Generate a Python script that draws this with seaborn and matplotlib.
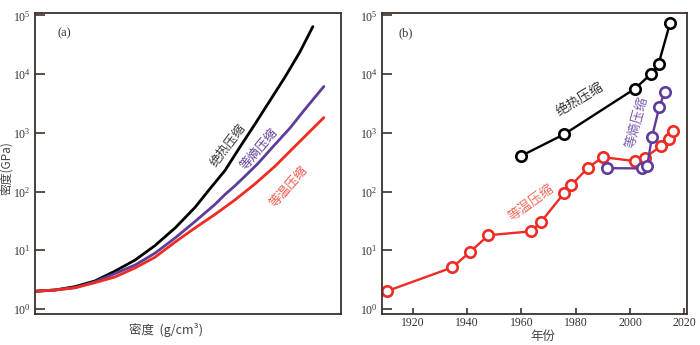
import matplotlib
matplotlib.use("Agg")
import matplotlib.pyplot as plt
import seaborn as sns
from matplotlib.ticker import LogLocator, NullLocator

# panel (a): pressure vs density curves (density in arbitrary units, no ticks shown)
adiabat_rho = [0, 0.65, 1.31, 1.96, 2.61, 3.27, 3.92, 4.58, 5.23, 5.72, 6.21, 6.70, 7.19, 7.68, 8.17, 8.66, 9.08]
adiabat_p = [2.0, 2.1, 2.4, 3.0, 4.4, 6.8, 12.0, 24.0, 53.7, 112, 229, 575, 1413, 3548, 8913, 23988, 64565]
isentrope_rho = [0, 0.65, 1.31, 1.96, 2.61, 3.27, 3.92, 4.58, 5.23, 5.88, 6.21, 6.54, 6.86, 7.29, 7.84, 8.33, 8.82, 9.44]
isentrope_p = [2.0, 2.1, 2.3, 2.9, 4.0, 5.6, 8.9, 16.2, 30.9, 60.3, 89.1, 126, 182, 302, 631, 1202, 2512, 6166]
isotherm_rho = [0, 0.65, 1.31, 1.96, 2.61, 3.27, 3.92, 4.58, 5.23, 5.88, 6.54, 7.19, 7.84, 8.59, 9.44]
isotherm_p = [2.0, 2.1, 2.3, 2.8, 3.5, 5.0, 7.6, 13.8, 24.0, 40.7, 72.4, 135, 269, 661, 1820]

# panel (b): record pressures by year
iso_t_year = [1910.3, 1934.5, 1941, 1947.8, 1963.5, 1967.2, 1975.8, 1978.3, 1984.5, 1990, 2001.8, 2005.5, 2011.5, 2014.3, 2015.8]
iso_t_p = [2.0, 5.1, 9.3, 18, 21, 30.5, 95, 127, 255, 385, 330, 380, 595, 775, 1060]
iso_s_year = [1991.7, 2004.3, 2006.3, 2008.1, 2010.8, 2012.8]
iso_s_p = [250, 248, 270, 850, 2760, 5000]
shock_year = [1959.9, 1975.8, 2001.8, 2007.9, 2010.5, 2014.8]
shock_p = [405, 950, 5650, 10200, 14800, 75000]

year_ticks = [1920, 1940, 1960, 1980, 2000, 2020]
labels = ["绝热压缩", "等熵压缩", "等温压缩"]

sns.set_style("white")
plt.rcParams['font.family'] = ['Liberation Serif', 'Noto Sans CJK SC', 'DejaVu Sans']
plt.rcParams['mathtext.fontset'] = 'custom'
plt.rcParams['mathtext.rm'] = 'Liberation Serif'

BLACK = "#000000"
PURPLE = "#5e3c99"
RED = "#ee2b25"
SPINE = "#3d302b"
CJK = ['Noto Sans CJK SC', 'DejaVu Sans']

fig = plt.figure(figsize=(7, 3.45), dpi=100)
ax1 = fig.add_axes([35 / 700, 1 - 314 / 345, 306 / 700, 301 / 345])
ax2 = fig.add_axes([382 / 700, 1 - 314 / 345, 305 / 700, 301 / 345])

sns.lineplot(x=adiabat_rho, y=adiabat_p, ax=ax1, color=BLACK, linewidth=2.0)
sns.lineplot(x=isentrope_rho, y=isentrope_p, ax=ax1, color=PURPLE, linewidth=2.0)
sns.lineplot(x=isotherm_rho, y=isotherm_p, ax=ax1, color=RED, linewidth=2.0)

mk = dict(marker='o', markersize=7.5, markerfacecolor='white', markeredgewidth=1.9, linewidth=1.7)
sns.lineplot(x=iso_t_year, y=iso_t_p, ax=ax2, color=RED, markeredgecolor=RED, **mk)
sns.lineplot(x=iso_s_year, y=iso_s_p, ax=ax2, color=PURPLE, markeredgecolor=PURPLE, **mk)
sns.lineplot(x=shock_year, y=shock_p, ax=ax2, color=BLACK, markeredgecolor=BLACK, **mk)

for ax in (ax1, ax2):
    ax.set_yscale('log')
    ax.set_ylim(0.82, 1.1e5)
    ax.yaxis.set_major_locator(LogLocator(base=10, numticks=10))
    ax.yaxis.set_minor_locator(NullLocator())
    for s in ax.spines.values():
        s.set_color(SPINE)
        s.set_linewidth(1.3)
    ax.tick_params(axis='y', which='major', direction='in', length=7, width=1.2,
                   color=SPINE, labelsize=8.5, labelcolor='#333333', pad=3, left=True)
    ax.set_xlabel('')
    ax.set_ylabel('')

ax1.set_xlim(0, 10)
ax1.set_xticks([])

ax2.set_xlim(1908.6, 2021)
ax2.set_xticks(year_ticks)
ax2.tick_params(axis='x', direction='in', length=4, width=1.2, color=SPINE,
                labelsize=8.5, labelcolor='#333333', pad=2, bottom=True)

# panel labels
fig.text(58 / 700, 1 - 33 / 345, "(a)", fontsize=9, color='#333333', va='center')
fig.text(399 / 700, 1 - 33 / 345, "(b)", fontsize=9, color='#333333', va='center')

# curve labels in (a)
fig.text(228 / 700, 1 - 145 / 345, labels[0], rotation=53, color='#333333', fontsize=9,
         family=CJK, ha='center', va='center')
fig.text(259 / 700, 1 - 149 / 345, labels[1], rotation=50, color=PURPLE, fontsize=9,
         family=CJK, ha='center', va='center')
fig.text(289 / 700, 1 - 187 / 345, labels[2], rotation=49, color='#f0554a', fontsize=9,
         family=CJK, ha='center', va='center')

# curve labels in (b)
fig.text(580 / 700, 1 - 99 / 345, labels[0], rotation=31, color='#333333', fontsize=9.5,
         family=CJK, ha='center', va='center')
fig.text(637 / 700, 1 - 122 / 345, labels[1], rotation=75, color='#7a5db0', fontsize=9.5,
         family=CJK, ha='center', va='center')
fig.text(531 / 700, 1 - 202 / 345, labels[2], rotation=36, color='#f06a5a', fontsize=9.5,
         family=CJK, ha='center', va='center')

# axis labels
fig.text(7 / 700, 1 - 168 / 345, "密度(GPa)", rotation=90, fontsize=8.5, color='#444444',
         family=CJK, ha='center', va='center')
fig.text(166 / 700, 1 - 330 / 345, "密度  (g/cm³)", fontsize=9, color='#444444',
         family=CJK, ha='center', va='center')
fig.text(543 / 700, 1 - 336 / 345, "年份", fontsize=9, color='#444444',
         family=CJK, ha='center', va='center')

fig.savefig("out.png", dpi=100)
